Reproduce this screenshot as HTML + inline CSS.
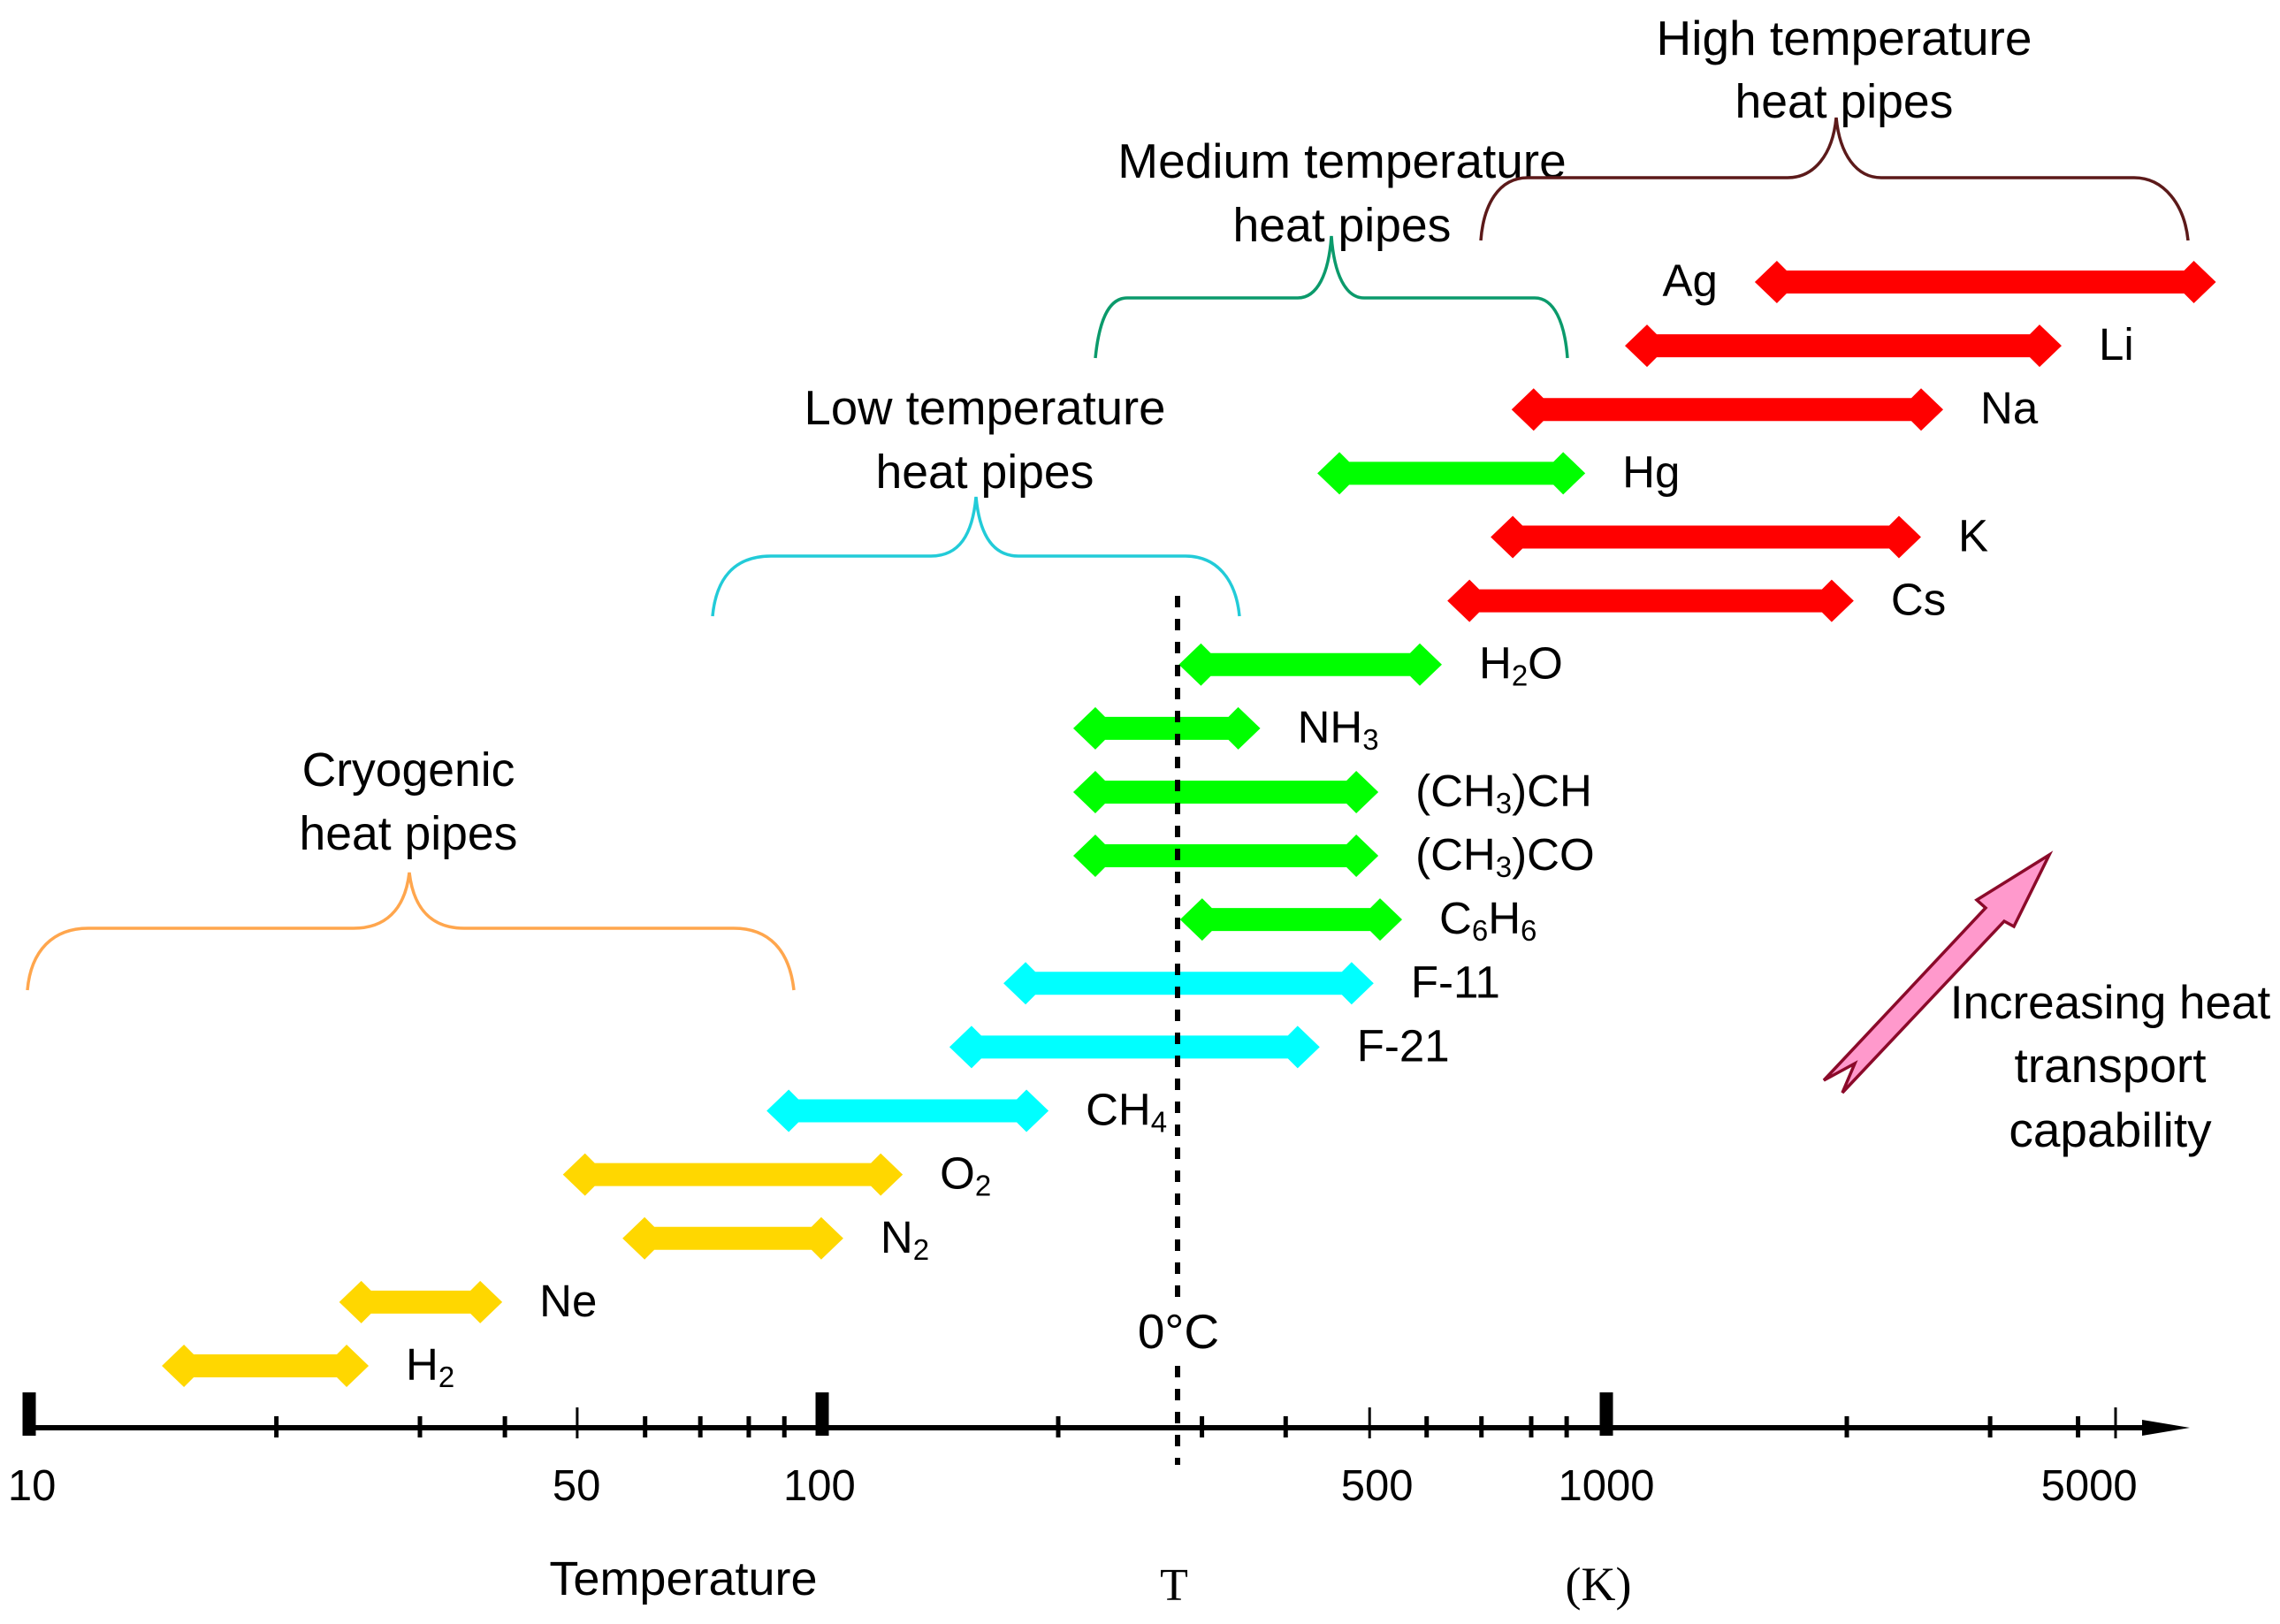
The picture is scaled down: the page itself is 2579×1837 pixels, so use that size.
<!DOCTYPE html>
<html>
<head>
<meta charset="utf-8">
<title>Heat pipe working fluids and temperature ranges</title>
<style>
html,body{margin:0;padding:0;background:#fff;}
svg{display:block;}
.note{font-family:"Liberation Sans",sans-serif;font-size:55px;fill:#000;text-anchor:middle;}
.narrow{font-size:53.5px;}
.tick-label{font-family:"Liberation Sans",sans-serif;font-size:49px;fill:#000;text-anchor:middle;}
.fluid{font-family:"Liberation Sans",sans-serif;font-size:51px;fill:#000;}
.serif{font-family:"Liberation Serif",serif;font-size:52px;fill:#000;text-anchor:middle;}
.brace{fill:none;stroke-width:3.5;}
</style>
</head>
<body>
<svg id="chart" xmlns="http://www.w3.org/2000/svg" width="2579" height="1837" viewBox="0 0 2579 1837">
  <rect width="2579" height="1837" fill="#ffffff"/>

  <g id="bars"></g>

  <line x1="1332" y1="674" x2="1332" y2="1472" stroke="#000" stroke-width="6" stroke-dasharray="13 13"/>
  <line x1="1332" y1="1545" x2="1332" y2="1657" stroke="#000" stroke-width="6" stroke-dasharray="13 13"/>
  <text class="note" x="1333" y="1525">0°C</text>

  <g id="axis">
    <line x1="33" y1="1615" x2="2430" y2="1615" stroke="#000" stroke-width="6"/>
    <polygon points="2423,1606 2477,1615 2423,1624" fill="#000"/>
  </g>

  <text class="note" style="font-size:54px" x="773" y="1804">Temperature</text>
  <text class="serif" x="1328" y="1810">T</text>
  <text class="serif" style="font-size:54px" x="1808" y="1810">(K)</text>

  <path class="brace" stroke="#ffa64d" d="M31,1120 C35,1075 60,1050 100,1050 L400,1050 C435,1050 458,1030 463,987 C468,1030 490,1050 525,1050 L830,1050 C870,1050 893,1075 898,1120"/>
  <text class="note narrow" x="462" y="889">Cryogenic</text>
  <text class="note narrow" x="462" y="961">heat pipes</text>

  <path class="brace" stroke="#22cbd8" d="M806,697 C810,655 830,629 872,629 L1053,629 C1085,629 1100,605 1104,562 C1108,605 1123,629 1152,629 L1341,629 C1376,629 1398,655 1402,697"/>
  <text class="note" style="font-size:54.5px" x="1114" y="480">Low temperature</text>
  <text class="note narrow" x="1114" y="552">heat pipes</text>

  <path class="brace" stroke="#0b9a6b" d="M1239,405 C1243,365 1253,337 1275,337 L1468,337 C1490,337 1503,310 1506,267 C1509,310 1522,337 1543,337 L1736,337 C1758,337 1770,365 1773,405"/>
  <text class="note" x="1518" y="201">Medium temperature</text>
  <text class="note narrow" x="1518" y="273">heat pipes</text>

  <path class="brace" stroke="#5c1a1a" d="M1675,272 C1678,232 1695,201 1728,201 L2022,201 C2052,201 2073,175 2077,133 C2081,175 2100,201 2128,201 L2414,201 C2448,201 2471,232 2475,272"/>
  <text class="note" x="2086" y="62">High temperature</text>
  <text class="note narrow" x="2086" y="133">heat pipes</text>

  <polygon points="2318,967 2278,1048 2267,1042 2084,1236 2098,1203 2063,1222 2246,1027 2236,1018" fill="#ff99cc" stroke="#8b0a2a" stroke-width="3.5" stroke-linejoin="miter"/>
  <text class="note" style="font-size:53px" x="2387" y="1152">Increasing heat</text>
  <text class="note" x="2387" y="1224">transport</text>
  <text class="note" x="2387" y="1297">capability</text>
</svg>

<script>
// ----- chart data (temperatures in kelvin) -----
const fluidNames = ["H_2","Ne","N_2","O_2","CH_4","F-21","F-11","C_6H_6","(CH_3)CO","(CH_3)CH","NH_3","H_2O","Cs","K","Hg","Na","Li","Ag"];
const rangeLow  = [14.7,24.6,56,47.1,85.1,145.3,170.3,286,209,209,209,285,627,712,428,757,1055,1534];
const rangeHigh = [26.8,39.5,106.4,126.7,194.4,431,505,549,512,512,362,617,2048,2576,940,2778,4160,7040];
const fluidClass = ["cryo","cryo","cryo","cryo","low","low","low","med","med","med","med","med","high","high","med","high","high","high"];
const majorTicks = [10,100,1000];
const midTicks = [49.1,499,5000];
const minorTicks = [20.5,31.1,39.8,59.8,70.2,80.8,89.6,200,305,390,590,693,802,890,2000,3260,4400];
const tickLabels = ["10","50","100","500","1000","5000"];
const tickLabelValues = [10.08,49,99.2,510,1000,4570];

// ----- axis functions -----
function xScale(v) {
  if (v <= 100) return 33 + 897 * Math.log10(v / 10);
  if (v <= 1000) return 930 + 887 * Math.log10(v / 100);
  if (v <= 2000) return 1817 + 272 * Math.log2(v / 1000);
  return 2089 + 304 * Math.log(v / 2000) / Math.log(2.5);
}
function rowY(i) {
  const count = fluidNames.length;
  return 1545 - i * (1545 - 319) / (count - 1);
}
function classColor(c) {
  if (c === "cryo") return "#ffd700";
  if (c === "low") return "#00ffff";
  if (c === "med") return "#00ff00";
  return "#ff0000";
}

const NS = "http://www.w3.org/2000/svg";
const barsGroup = document.getElementById("bars");
const axisGroup = document.getElementById("axis");

function slug(s) {
  return s.replace(/[^A-Za-z0-9]+/g, "-").replace(/^-|-$/g, "").toLowerCase();
}

// ----- range bars -----
fluidNames.forEach(function (name, i) {
  const x0 = xScale(rangeLow[i]);
  const x1 = xScale(rangeHigh[i]);
  const y = rowY(i);
  const pts = [
    [x0, y], [x0 + 25, y - 24], [x0 + 36, y - 13], [x1 - 36, y - 13], [x1 - 25, y - 24],
    [x1, y], [x1 - 25, y + 24], [x1 - 36, y + 13], [x0 + 36, y + 13], [x0 + 25, y + 24]
  ];
  const bar = document.createElementNS(NS, "polygon");
  bar.setAttribute("points", pts.map(function (p) { return p.join(","); }).join(" "));
  bar.setAttribute("fill", classColor(fluidClass[i]));
  
  
  barsGroup.appendChild(bar);

  const label = document.createElementNS(NS, "text");
  label.setAttribute("class", "fluid");
  const onLeft = x1 + 150 > 2579;
  label.setAttribute("x", onLeft ? x0 - 42 : x1 + 42);
  label.setAttribute("y", y + 16);
  label.setAttribute("text-anchor", onLeft ? "end" : "start");
  
  
  name.split("_").forEach(function (part, k) {
    if (k === 0) {
      label.appendChild(document.createTextNode(part));
      return;
    }
    const sub = document.createElementNS(NS, "tspan");
    sub.setAttribute("font-size", "33");
    sub.setAttribute("dy", "8");
    sub.textContent = part.charAt(0);
    label.appendChild(sub);
    if (part.length > 1) {
      const rest = document.createElementNS(NS, "tspan");
      rest.setAttribute("dy", "-8");
      rest.textContent = part.slice(1);
      label.appendChild(rest);
    }
  });
  barsGroup.appendChild(label);
});

// ----- axis ticks -----
function addTick(v, top, bottom, width, kind) {
  const t = document.createElementNS(NS, "line");
  const x = xScale(v);
  t.setAttribute("x1", x);
  t.setAttribute("x2", x);
  t.setAttribute("y1", top);
  t.setAttribute("y2", bottom);
  t.setAttribute("stroke", "#000");
  t.setAttribute("stroke-width", width);
  
  
  axisGroup.appendChild(t);
}
majorTicks.forEach(function (v) { addTick(v, 1575, 1624, 15, "major"); });
midTicks.forEach(function (v) { addTick(v, 1592, 1627, 3, "mid"); });
minorTicks.forEach(function (v) { addTick(v, 1602, 1626, 5, "minor"); });

tickLabels.forEach(function (txt, i) {
  const el = document.createElementNS(NS, "text");
  el.setAttribute("class", "tick-label");
  el.setAttribute("x", xScale(tickLabelValues[i]));
  el.setAttribute("y", 1697);
  el.textContent = txt;
  
  
  axisGroup.appendChild(el);
});
</script>
</body>
</html>
